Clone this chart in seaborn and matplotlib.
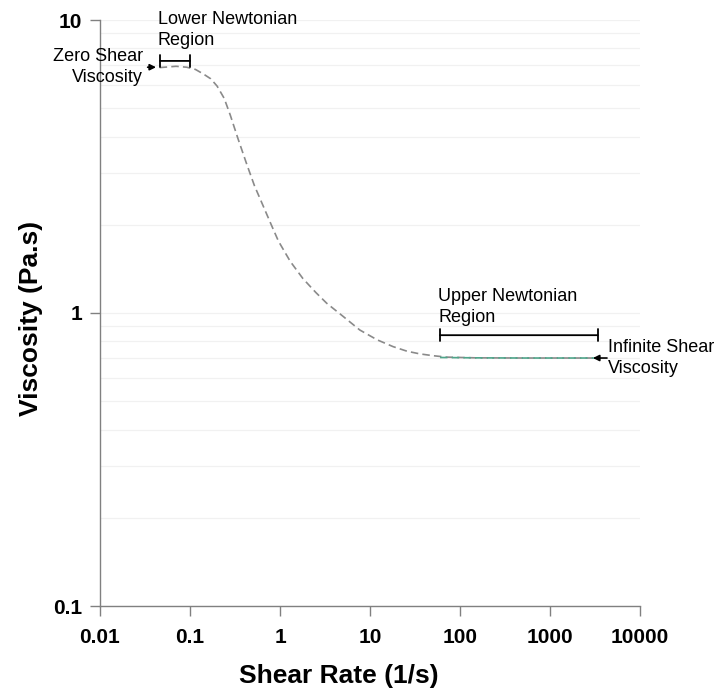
import matplotlib
matplotlib.use("Agg")
import matplotlib.pyplot as plt
import seaborn as sns
import pandas as pd
import numpy as np

# Data
shear_rate = [0.046, 0.07, 0.092, 0.115, 0.14, 0.17, 0.2, 0.24, 0.28, 0.34, 0.43, 0.52, 0.65,
              0.8, 0.96, 1.3, 1.8, 2.5, 3.3, 5.0, 7.7, 12, 18, 26, 36, 50, 71, 150,
              500, 1500, 3160]
viscosity = [6.88, 6.95, 6.9, 6.78, 6.55, 6.3, 5.95, 5.4, 4.74, 3.95, 3.2, 2.72, 2.32,
             2.0, 1.76, 1.5, 1.31, 1.175, 1.08, 0.975, 0.875, 0.81, 0.768, 0.74, 0.725,
             0.715, 0.707, 0.703, 0.702, 0.702, 0.702]
upper_x = [60, 150, 500, 1500, 3160]
upper_y = [0.705, 0.703, 0.702, 0.702, 0.702]

x_ticks = [0.01, 0.1, 1, 10, 100, 1000, 10000]
x_ticklabels = ["0.01", "0.1", "1", "10", "100", "1000", "10000"]
y_ticks = [0.1, 1, 10]
y_ticklabels = ["0.1", "1", "10"]

df = pd.DataFrame({"Shear Rate": shear_rate, "Viscosity": viscosity})
df_up = pd.DataFrame({"Shear Rate": upper_x, "Viscosity": upper_y})

sns.set_style("white")
plt.rcParams["font.family"] = ["Liberation Sans", "DejaVu Sans"]
plt.rcParams["text.color"] = "black"
plt.rcParams["axes.labelcolor"] = "black"
plt.rcParams["xtick.color"] = "black"
plt.rcParams["ytick.color"] = "black"
plt.rcParams["xtick.bottom"] = True
plt.rcParams["ytick.left"] = True

fig = plt.figure(figsize=(7.17, 6.95), dpi=100)
ax = fig.add_axes([100/717, 1-606/695, 540/717, 586/695])

ax.set_xscale("log")
ax.set_yscale("log")

sns.lineplot(data=df, x="Shear Rate", y="Viscosity", ax=ax, color="#8a8a8a",
             linewidth=1.2, linestyle=(0, (4.5, 2.5)))
sns.lineplot(data=df_up, x="Shear Rate", y="Viscosity", ax=ax, color="#4fa58a",
             linewidth=1.2, linestyle=(0, (4.5, 2.5)))

ax.set_xlim(0.01, 10000)
ax.set_ylim(0.1, 10)

# faint horizontal gridlines
ax.yaxis.set_minor_locator(matplotlib.ticker.LogLocator(base=10, subs=np.arange(2, 10)))
ax.grid(True, axis="y", which="both", color="#f1f1f1", linewidth=0.9)
ax.grid(False, axis="x")
ax.tick_params(axis="y", which="minor", length=0)

ax.set_xticks(x_ticks)
ax.set_xticklabels(x_ticklabels)
ax.set_yticks(y_ticks)
ax.set_yticklabels(y_ticklabels)
ax.xaxis.set_minor_locator(matplotlib.ticker.NullLocator())
ax.tick_params(axis="x", which="major", direction="out", length=7, width=1,
               color="#808080", labelsize=15, pad=9)
ax.tick_params(axis="y", which="major", direction="out", length=7, width=1,
               color="#808080", labelsize=15, pad=6)
for lab in ax.get_xticklabels() + ax.get_yticklabels():
    lab.set_fontweight("bold")

for s in ["top", "right"]:
    ax.spines[s].set_visible(False)
for s in ["left", "bottom"]:
    ax.spines[s].set_color("#808080")
    ax.spines[s].set_linewidth(1.0)

ax.set_xlabel("Shear Rate (1/s)", fontsize=19, fontweight="bold")
ax.set_ylabel("Viscosity (Pa.s)", fontsize=19, fontweight="bold")
ax.xaxis.set_label_coords((339 - 100) / 540, -(676 - 606) / 586)
ax.yaxis.set_label_coords(-(100 - 31) / 540, (606 - 318) / 586)
ax.xaxis.label.set_va("center")
ax.yaxis.label.set_va("center")

# Annotations
tfs = 13
ls = 1.3
brk = "|-|,widthA=0.22,widthB=0.22"
ax.annotate("", xy=(0.045, 6.9), xytext=(0.0315, 6.9),
            arrowprops=dict(arrowstyle="-|>", color="black", lw=1.2, mutation_scale=9))
ax.text(0.030, 6.9, "Zero Shear\nViscosity", ha="right", va="center", fontsize=tfs,
        linespacing=ls)

ax.annotate("", xy=(0.0465, 7.25), xytext=(0.1, 7.25),
            arrowprops=dict(arrowstyle=brk, color="black",
                            lw=1.3, mutation_scale=20, shrinkA=0, shrinkB=0))
ax.text(0.044, 10.75, "Lower Newtonian\nRegion", ha="left", va="top", fontsize=tfs,
        linespacing=ls, clip_on=False)

ax.annotate("", xy=(60, 0.84), xytext=(3400, 0.84),
            arrowprops=dict(arrowstyle=brk, color="black",
                            lw=1.3, mutation_scale=20, shrinkA=0, shrinkB=0))
ax.text(57, 1.22, "Upper Newtonian\nRegion", ha="left", va="top", fontsize=tfs,
        linespacing=ls)

ax.annotate("", xy=(3000, 0.702), xytext=(4300, 0.702),
            arrowprops=dict(arrowstyle="-|>", color="black", lw=1.2, mutation_scale=9,
                            shrinkA=0, shrinkB=0))
ax.text(4450, 0.702, "Infinite Shear\nViscosity", ha="left", va="center", fontsize=tfs,
        linespacing=ls, clip_on=False)

fig.savefig("out.png", dpi=100)
